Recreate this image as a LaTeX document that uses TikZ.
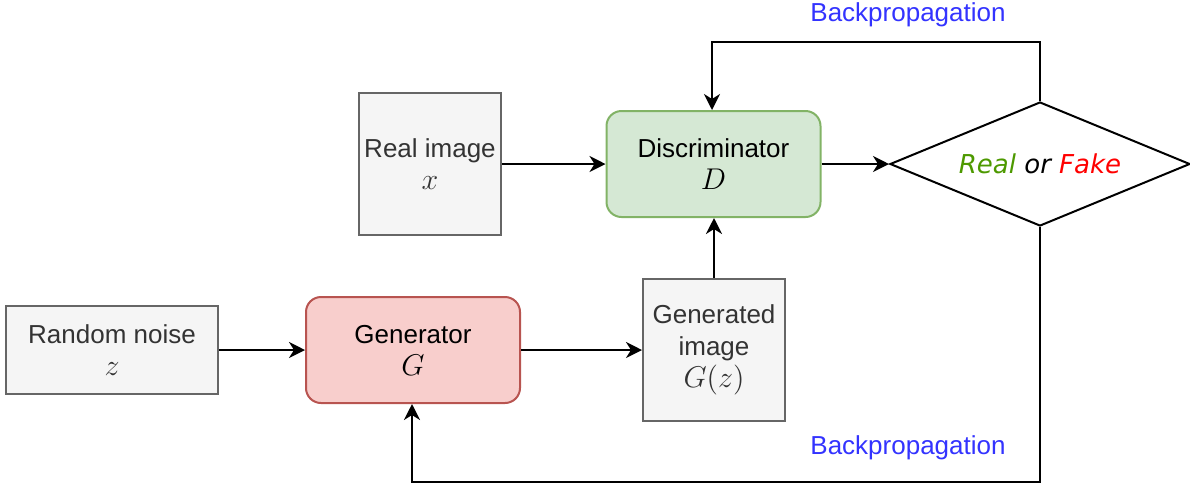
\RequirePackage{fix-cm}
\documentclass[tikz,border=0pt]{standalone}
\usepackage[no-math]{fontspec}
\setmainfont{Liberation Sans}
\newfontfamily\verdanalike{DejaVu Sans}
\usetikzlibrary{shapes.geometric,arrows.meta}

\definecolor{greyfill}{HTML}{F5F5F5}
\definecolor{greyline}{HTML}{666666}
\definecolor{greytext}{HTML}{333333}
\definecolor{greenfill}{HTML}{D5E8D4}
\definecolor{greenline}{HTML}{82B366}
\definecolor{redfill}{HTML}{F8CECC}
\definecolor{redline}{HTML}{B85450}
\definecolor{backblue}{HTML}{3333FF}
\definecolor{realgreen}{HTML}{4D9900}
\definecolor{fakered}{HTML}{FF0000}

% formula symbols are set a little larger than the labels
\newcommand\mth[1]{{\fontsize{15}{16}\selectfont$#1$}}

\tikzset{
  box/.style={line width=1pt, align=center, inner sep=0pt,
    font=\fontsize{13}{16}\selectfont},
  datbox/.style={box, draw=greyline, fill=greyfill, text=greytext},
  netbox/.style={box, rounded corners=7.5pt, minimum width=107pt, minimum height=53pt},
  link/.style={line width=1pt, line join=miter,
    -{Stealth[length=8pt,width=8pt,inset=2.5pt]}},
  note/.style={text=backblue, font=\fontsize{13}{16}\selectfont, inner sep=0pt}
}

\begin{document}
\begin{tikzpicture}[x=0.5pt,y=-0.5pt]
\useasboundingbox (0,0) rectangle (1190,484);

% data boxes
\node[datbox, minimum width=71pt, minimum height=71pt] (real) at (430,164) {Real image\\ \mth{x}};
\node[datbox, minimum width=106pt, minimum height=44pt] (noise) at (112,350) {Random noise\\ \mth{z}};
\node[datbox, minimum width=71pt, minimum height=71pt] (fake) at (714,350) {Generated\\ image\\ \mth{G(z)}};

% networks
\node[netbox, draw=greenline, fill=greenfill] (disc) at (713.5,164) {Discriminator\\ \mth{D}};
\node[netbox, draw=redline, fill=redfill] (gen) at (413,350) {Generator\\ \mth{G}};

% decision
\node[draw, line width=1pt, shape=diamond, shape aspect=2.42, inner sep=0pt,
      minimum width=150pt, minimum height=62pt,
      font=\verdanalike\itshape\fontsize{13}{16}\selectfont] (judge) at (1040,164)
  {\textcolor{realgreen}{Real} or \textcolor{fakered}{Fake}};

% labels
\node[note] (bpup) at (908,15) {Backpropagation};
\node[note] (bpdown) at (908,448) {Backpropagation};

% forward flow
\draw[link] (real.east) -- (disc.west);
\draw[link] (disc.east) -- (judge.west);
\draw[link] (noise.east) -- (gen.west);
\draw[link] (gen.east) -- (fake.west);
\draw[link] (fake.north) -- (fake.north |- disc.south);

% feedback loops
\coordinate (topturn) at (712,42);
\coordinate (botturn) at (412,482);
\draw[link] (judge.north) -- (judge.north |- topturn) -- (topturn) -- (topturn |- disc.north);
\draw[link] (judge.south) -- (judge.south |- botturn) -- (botturn) -- (botturn |- gen.south);
\end{tikzpicture}
\end{document}
